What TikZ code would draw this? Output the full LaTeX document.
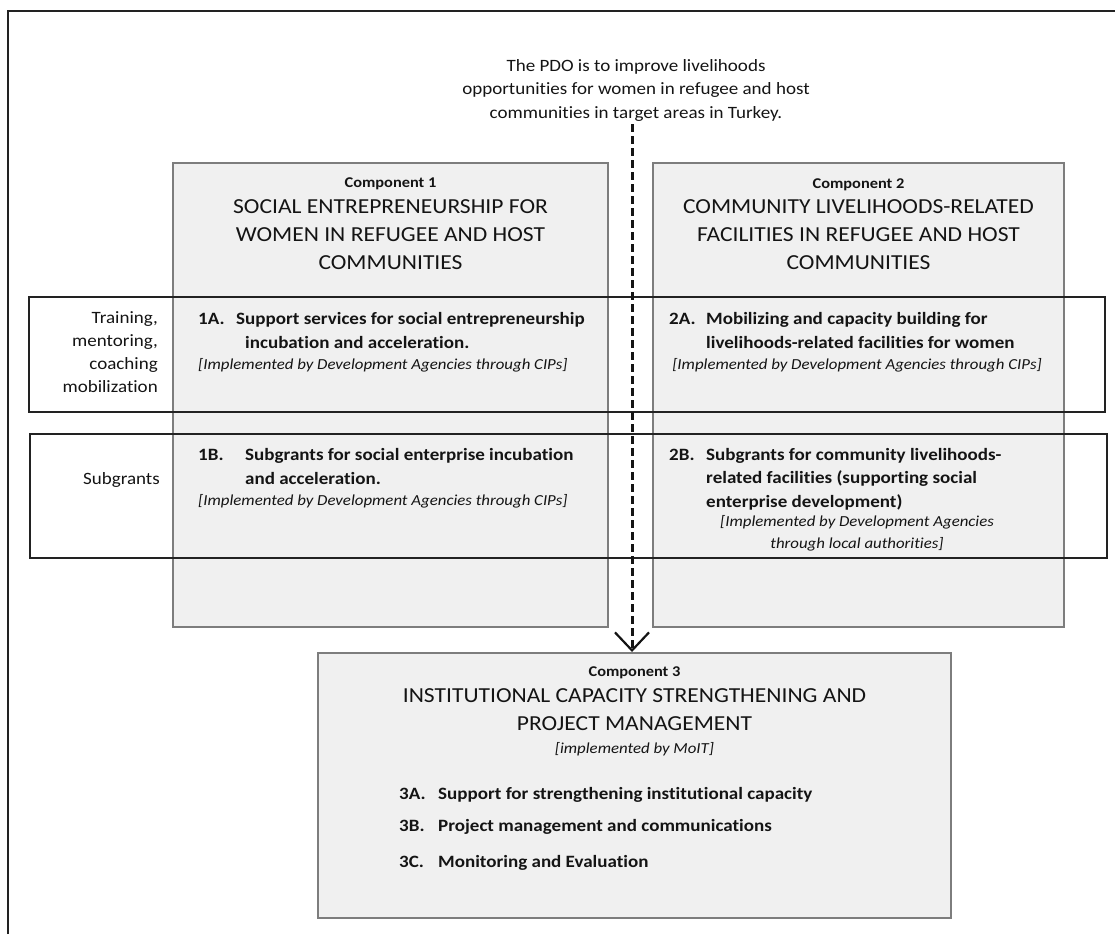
\documentclass[tikz,border=0pt]{standalone}
\usepackage{fontspec}
\setmainfont{Carlito}[FakeStretch=1.1, Ligatures=NoCommon]
\usetikzlibrary{arrows.meta}

\newlength{\du}
\setlength{\du}{1pt}

\definecolor{boxfill}{RGB}{240,240,240}
\definecolor{boxline}{RGB}{125,125,125}
\definecolor{bandline}{RGB}{34,34,34}
\definecolor{inkcol}{RGB}{20,20,20}

% multi-line nodes sit on the baseline of their last line
\tikzset{
  compbox/.style={draw=boxline, fill=boxfill, line width=2\du, inner sep=0pt},
  bandbox/.style={draw=bandline, line width=1.6\du, inner sep=0pt},
  complbl/.style={font=\bfseries\fontsize{14.9}{17}\selectfont, text=inkcol, anchor=base, inner sep=0pt},
  comptitle/.style={font=\fontsize{21.4}{28}\selectfont, text=inkcol, align=center, anchor=base, inner sep=0pt},
  itemno/.style={font=\bfseries\fontsize{17.3}{23.5}\selectfont, text=inkcol, anchor=base west, inner sep=0pt},
  itemtext/.style={itemno, align=left},
  impl/.style={font=\itshape\fontsize{15.3}{22}\selectfont, text=inkcol, inner sep=0pt},
  sidelbl/.style={font=\fontsize{17.3}{23}\selectfont, text=inkcol, align=right, anchor=base east, inner sep=0pt},
  pdotext/.style={font=\fontsize{17.3}{23.5}\selectfont, text=inkcol, align=center, anchor=base, inner sep=0pt},
  pdoarrow/.style={draw=inkcol, line width=3pt, dash pattern=on 8pt off 4pt,
    -{Straight Barb[length=18pt, width=34pt, line width=2.2pt]}}
}

\begin{document}
\begin{tikzpicture}
\pgftransformxscale{1.000000}
\pgftransformyscale{-1.000000}
\useasboundingbox (0\du,0\du) rectangle (1115\du,934\du);
% outer frame
\draw[draw=bandline, line width=2\du] (8\du,934\du)--(8\du,11\du)--(1115\du,11\du);
% component boxes
\node[compbox, minimum width=435\du, minimum height=464\du] (c1) at (390.5\du,395\du) {};
\node[compbox, minimum width=411\du, minimum height=464\du] (c2) at (858.5\du,395\du) {};
\node[compbox, minimum width=633\du, minimum height=265\du] (c3) at (634.5\du,785.5\du) {};
% bands
\node[bandbox, minimum width=1076\du, minimum height=115\du] (bandA) at (567\du,354.5\du) {};
\node[bandbox, minimum width=1077\du, minimum height=124\du] (bandB) at (568.5\du,496\du) {};
% pdo
\node[pdotext] (pdo) at (636\du,118\du) {The PDO is to improve livelihoods\\opportunities for women in refugee and host\\communities in target areas in Turkey.};
\coordinate (pdoend) at (632\du,124\du);
% component 1
\node[complbl] (c1lbl) at (390.5\du,187\du) {Component 1};
\node[comptitle] (c1title) at (390.5\du,269\du) {SOCIAL ENTREPRENEURSHIP FOR\\WOMEN IN REFUGEE AND HOST\\COMMUNITIES};
\node[itemno] (n1a) at (198\du,324\du) {1A.};
\node[itemtext] (t1a) at (236\du,348\du) {Support services for social entrepreneurship\\\hspace*{9pt}incubation and acceleration.};
\node[impl, anchor=base west] (i1a) at (198\du,369\du) {[Implemented by Development Agencies through CIPs]};
\node[itemno] (n1b) at (198\du,460\du) {1B.};
\node[itemtext] (t1b) at (245\du,484\du) {Subgrants for social enterprise incubation\\and acceleration.};
\node[impl, anchor=base west] (i1b) at (198\du,505\du) {[Implemented by Development Agencies through CIPs]};
% component 2
\node[complbl] (c2lbl) at (858.5\du,188\du) {Component 2};
\node[comptitle] (c2title) at (858.5\du,269\du) {COMMUNITY LIVELIHOODS-RELATED\\FACILITIES IN REFUGEE AND HOST\\COMMUNITIES};
\node[itemno] (n2a) at (669\du,324\du) {2A.};
\node[itemtext] (t2a) at (706\du,348\du) {Mobilizing and capacity building for\\livelihoods-related facilities for women};
\node[impl, anchor=base] (i2a) at (857\du,369\du) {[Implemented by Development Agencies through CIPs]};
\node[itemno] (n2b) at (669\du,460\du) {2B.};
\node[itemtext] (t2b) at (706\du,507\du) {Subgrants for community livelihoods-\\related facilities (supporting social\\enterprise development)};
\node[impl, anchor=base, align=center] (i2b) at (857\du,548\du) {[Implemented by Development Agencies\\through local authorities]};
% side labels
\node[sidelbl] (sidea) at (158\du,392\du) {Training,\\mentoring,\\coaching\\mobilization};
\node[sidelbl] (sideb) at (160\du,484\du) {Subgrants};
% component 3
\node[complbl] (c3lbl) at (634.5\du,676\du) {Component 3};
\node[comptitle] (c3title) at (634.5\du,730\du) {INSTITUTIONAL CAPACITY STRENGTHENING AND\\PROJECT MANAGEMENT};
\node[impl, anchor=base] (i3) at (634.5\du,753\du) {[implemented by MoIT]};
\node[itemno] (n3a) at (399\du,799\du) {3A.};
\node[itemno] (t3a) at (438\du,799\du) {Support for strengthening institutional capacity};
\node[itemno] (n3b) at (399\du,831\du) {3B.};
\node[itemno] (t3b) at (438\du,831\du) {Project management and communications};
\node[itemno] (n3c) at (399\du,867\du) {3C.};
\node[itemno] (t3c) at (438\du,867\du) {Monitoring and Evaluation};
% pdo arrow
\draw[pdoarrow] (pdoend) -- (pdoend |- c3.north);
\end{tikzpicture}
\end{document}
